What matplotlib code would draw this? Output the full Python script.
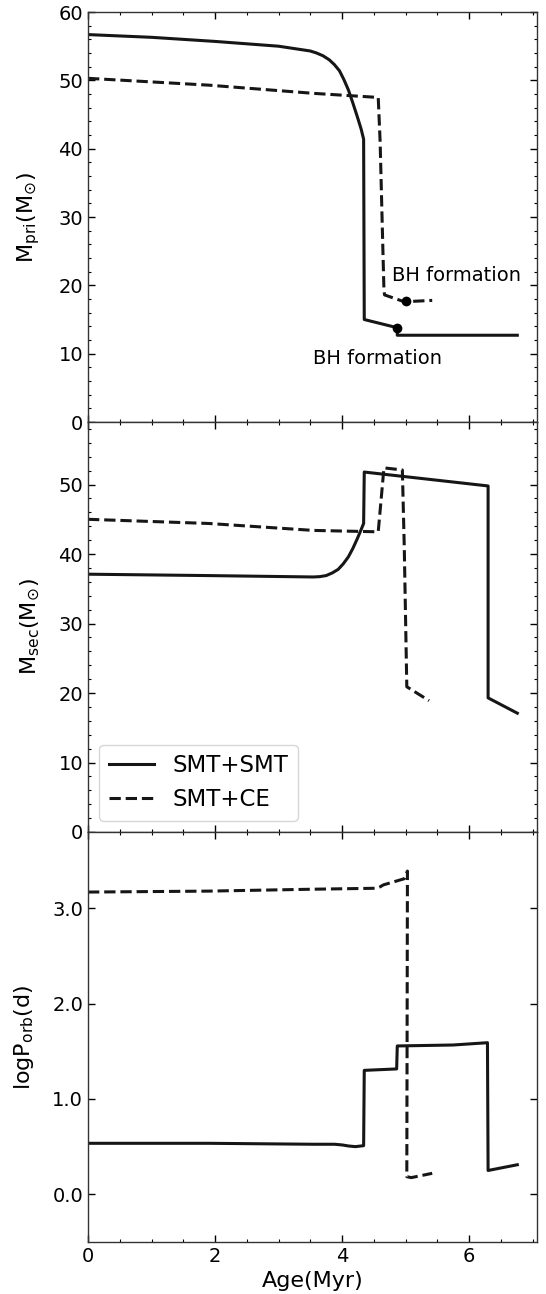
import numpy as np
import matplotlib
matplotlib.use("Agg")
from matplotlib import pyplot as plt
from matplotlib.ticker import MultipleLocator, FormatStrFormatter

# primary mass, SMT+SMT channel
pri_smt_age = [0.0, 1.0, 2.0, 3.0, 3.5, 3.6, 3.7, 3.8, 3.88, 3.96, 4.03, 4.1, 4.17, 4.24,
               4.3, 4.34, 4.35, 4.87, 4.87, 6.76]
pri_smt_mass = [56.7, 56.3, 55.7, 55.0, 54.3, 54.0, 53.6, 53.0, 52.3, 51.4, 50.1, 48.6, 46.7, 44.7,
                42.9, 41.4, 15.0, 13.8, 12.7, 12.7]
# primary mass, SMT+CE channel
pri_ce_age = [0.0, 1.9, 3.55, 4.57, 4.60, 4.63, 4.66, 4.67, 4.98, 5.42]
pri_ce_mass = [50.3, 49.3, 48.1, 47.5, 41.0, 30.0, 19.3, 18.6, 17.6, 17.8]
bh_age = [4.87, 5.01]
bh_mass = [13.8, 17.7]

# secondary mass
sec_smt_age = [0.0, 1.9, 3.55, 3.65, 3.75, 3.85, 3.94, 4.02, 4.1, 4.17, 4.24, 4.3, 4.34,
               4.35, 6.30, 6.30, 6.76]
sec_smt_mass = [37.1, 36.9, 36.7, 36.75, 36.9, 37.3, 37.8, 38.6, 39.6, 40.8, 42.2, 43.5, 44.4,
                51.8, 49.8, 19.3, 17.1]
sec_ce_age = [0.0, 1.9, 3.55, 4.57, 4.66, 4.95, 4.98, 5.02, 5.37]
sec_ce_mass = [45.0, 44.4, 43.4, 43.2, 52.4, 52.1, 41.0, 20.9, 18.9]

# orbital period
p_smt_age = [0.0, 1.9, 3.55, 3.88, 4.0, 4.1, 4.21, 4.34, 4.35, 4.86, 4.87, 5.75, 6.29, 6.30, 6.76]
p_smt_logp = [0.535, 0.535, 0.525, 0.525, 0.518, 0.507, 0.50, 0.51, 1.30, 1.315, 1.556, 1.566,
              1.59, 0.25, 0.31]
p_ce_age = [0.0, 1.9, 3.55, 4.54, 4.6, 4.65, 4.93, 4.98, 5.03, 5.02, 5.09, 5.42]
p_ce_logp = [3.17, 3.18, 3.20, 3.21, 3.225, 3.245, 3.30, 3.31, 3.39, 0.185, 0.175, 0.22]

plt.rcParams['font.family'] = ['DejaVu Sans']
plt.rcParams['mathtext.fontset'] = 'dejavusans'

fig, axes = plt.subplots(3, 1, figsize=(5.46, 12.94), dpi=100, sharex=True)
fig.subplots_adjust(left=0.1612, right=0.9835, top=0.9907, bottom=0.0402, hspace=0)
ax1, ax2, ax3 = axes

lw = 2.2
col = '#161616'

ax1.plot(pri_smt_age, pri_smt_mass, '-', color=col, lw=lw)
ax1.plot(pri_ce_age, pri_ce_mass, '--', color=col, lw=lw)
ax1.plot(bh_age, bh_mass, 'o', color='k', ms=6)
ax1.text(4.78, 21.5, 'BH formation', fontsize=14, va='center')
ax1.text(3.55, 9.3, 'BH formation', fontsize=14, va='center')
ax1.set_ylim(0, 60)
ax1.set_ylabel(r'$\mathrm{M_{pri}(M_{\odot})}$', fontsize=16, labelpad=12)
ax1.yaxis.set_major_locator(MultipleLocator(10))
ax1.yaxis.set_minor_locator(MultipleLocator(2))

ax2.plot(sec_smt_age, sec_smt_mass, '-', color=col, lw=lw, label='SMT+SMT')
ax2.plot(sec_ce_age, sec_ce_mass, '--', color=col, lw=lw, label='SMT+CE')
ax2.set_ylim(0, 59)
ax2.set_ylabel(r'$\mathrm{M_{sec}(M_{\odot})}$', fontsize=16, labelpad=12)
ax2.yaxis.set_major_locator(MultipleLocator(10))
ax2.yaxis.set_minor_locator(MultipleLocator(2))
ax2.legend(loc='lower left', fontsize=16.5)

ax3.plot(p_smt_age, p_smt_logp, '-', color=col, lw=lw)
ax3.plot(p_ce_age, p_ce_logp, '--', color=col, lw=lw)
ax3.set_ylim(-0.5, 3.8)
ax3.set_ylabel(r'$\mathrm{logP_{orb}(d)}$', fontsize=16, labelpad=12)
ax3.yaxis.set_major_locator(MultipleLocator(1))
ax3.yaxis.set_major_formatter(FormatStrFormatter('%.1f'))
ax3.set_xlabel('Age(Myr)', fontsize=16)

ax3.set_xlim(0, 7.07)
ax3.xaxis.set_major_locator(MultipleLocator(2))
ax3.xaxis.set_minor_locator(MultipleLocator(0.5))

for ax in axes:
    ax.tick_params(which='both', direction='in', top=True, right=True, labelsize=14)
    ax.tick_params(which='major', length=5, width=1)
    ax.tick_params(which='minor', length=2.5, width=0.8)
    for s in ax.spines.values():
        s.set_color('#333333')
        s.set_linewidth(1.0)

fig.savefig('out.png', dpi=100)
